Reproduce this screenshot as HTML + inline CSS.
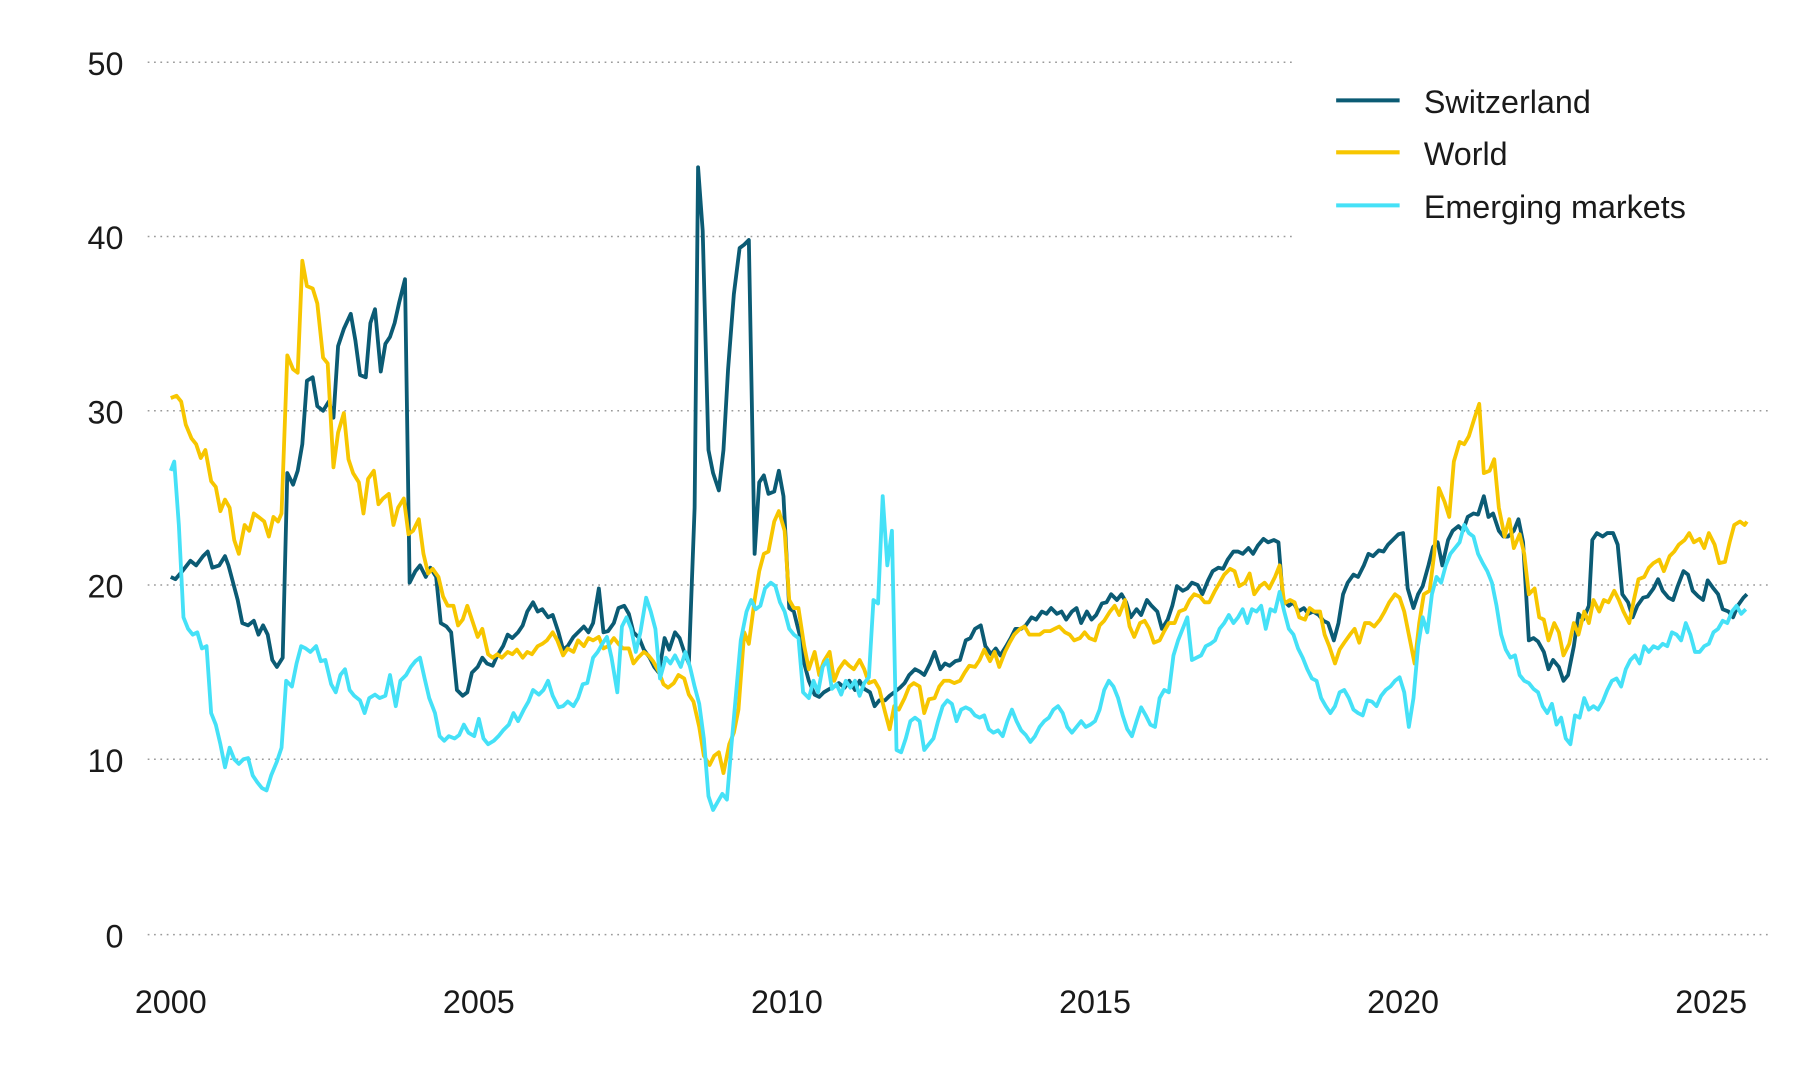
<!DOCTYPE html>
<html><head><meta charset="utf-8"><style>
html,body{margin:0;padding:0;background:#fff;}
svg{display:block;}
text{font-family:"Liberation Sans",sans-serif;fill:#1a1a1a;}
</style></head><body>
<svg width="1800" height="1080" viewBox="0 0 1560 936" xmlns="http://www.w3.org/2000/svg">
<g stroke="#9a9a9a" stroke-width="1.3" stroke-dasharray="1.5 4">
<line x1="128" y1="54" x2="1122" y2="54"/>
<line x1="128" y1="205" x2="1122" y2="205"/>
<line x1="128" y1="356" x2="1535" y2="356"/>
<line x1="128" y1="507" x2="1535" y2="507"/>
<line x1="128" y1="658" x2="1535" y2="658"/>
<line x1="128" y1="810" x2="1535" y2="810"/>
</g>
<g font-size="28" text-anchor="end">
<text x="107" y="65">50</text>
<text x="107" y="216">40</text>
<text x="107" y="367">30</text>
<text x="107" y="518">20</text>
<text x="107" y="669">10</text>
<text x="107" y="821">0</text>
</g>
<g font-size="28" text-anchor="middle">
<text x="148" y="878">2000</text>
<text x="415" y="878">2005</text>
<text x="682" y="878">2010</text>
<text x="949" y="878">2015</text>
<text x="1216" y="878">2020</text>
<text x="1483" y="878">2025</text>
</g>
<g fill="none" stroke-width="3.3" stroke-linejoin="round">
<polyline stroke="#0b5b74" points="148,500 152,502 158,495 165,486 170,490 176,482 180,478 184,492 190,490 195,482 198,490 202,505 206,520 210,540 215,542 220,538 224,550 228,542 232,550 236,572 240,578 245,570 249,410 254,420 258,408 262,385 266,330 271,327 275,352 280,356 285,348 289,362 293,300 298,285 304,272 308,295 312,325 317,327 321,280 325,268 330,322 334,298 338,292 342,280 346,262 351,242 355,505 360,495 364,490 369,500 373,492 378,500 382,540 387,543 391,548 396,598 401,603 405,600 409,583 414,578 418,570 422,575 427,577 431,568 436,560 440,550 444,553 449,548 453,542 457,530 462,522 466,530 470,528 475,535 479,533 484,548 488,563 492,560 497,552 501,548 506,543 510,548 514,540 519,510 523,548 527,547 532,540 536,527 541,525 545,532 549,548 554,553 558,563 563,570 567,578 571,583 576,553 580,563 585,548 589,553 593,565 597,575 602,440 605,145 609,200 614,390 618,410 623,425 627,390 631,320 636,255 641,215 645,212 649,208 654,480 658,418 662,412 666,428 671,426 675,408 679,430 684,527 688,530 693,550 697,575 701,590 706,602 710,604 714,600 719,597 723,595 727,592 732,596 736,590 741,598 745,590 749,597 754,600 758,612 762,607 767,607 771,603 775,600 780,596 784,592 788,585 793,580 797,582 801,585 806,575 810,565 815,580 819,575 823,577 828,573 832,572 837,555 841,553 845,545 850,542 854,560 859,567 863,562 867,568 872,560 876,553 880,545 885,545 889,542 894,535 898,537 903,530 907,532 911,527 916,532 920,530 924,537 929,530 933,527 937,540 942,530 946,537 950,533 955,523 959,522 963,515 968,520 972,515 976,522 980,535 985,528 989,533 994,520 998,525 1003,530 1007,545 1012,537 1016,525 1020,508 1025,512 1029,510 1033,505 1038,507 1042,515 1047,503 1051,495 1056,492 1060,493 1064,485 1069,478 1073,478 1077,480 1082,475 1086,480 1090,473 1095,467 1099,470 1104,468 1108,470 1112,520 1117,525 1121,522 1125,530 1130,527 1134,532 1138,530 1143,533 1147,538 1151,540 1156,555 1160,540 1164,515 1168,505 1173,498 1177,500 1182,490 1186,480 1190,482 1195,477 1199,478 1203,472 1208,467 1212,463 1216,462 1220,510 1225,527 1229,515 1233,508 1238,490 1242,474 1246,470 1250,490 1255,468 1259,460 1264,456 1268,460 1272,448 1277,445 1281,446 1286,430 1290,448 1294,445 1299,460 1303,465 1307,465 1312,460 1316,450 1320,470 1325,555 1329,553 1333,556 1338,565 1342,580 1346,572 1351,578 1355,590 1359,585 1364,560 1368,532 1372,537 1377,525 1380,468 1384,462 1389,465 1393,462 1398,462 1402,472 1406,515 1411,522 1415,535 1419,525 1424,518 1428,517 1433,510 1437,502 1441,512 1446,518 1450,520 1454,508 1459,495 1463,498 1467,512 1472,517 1476,520 1480,503 1485,510 1489,515 1493,528 1498,530 1502,535 1506,525 1511,518 1514,515"/>
<polyline stroke="#f7c600" points="148,345 153,343 157,348 161,368 166,380 170,385 174,397 178,390 183,417 187,422 191,443 195,433 199,440 203,468 207,480 212,455 216,460 220,445 224,448 229,452 233,465 237,448 241,452 244,445 249,308 254,320 258,323 262,226 266,248 271,250 275,263 280,310 284,315 289,405 293,375 298,358 302,398 306,410 311,418 315,445 319,415 324,408 328,437 332,432 337,428 341,455 345,440 350,432 354,463 358,460 363,450 367,480 371,497 375,493 380,500 384,517 388,525 393,525 397,542 401,537 405,525 410,540 414,552 418,545 423,567 427,570 431,567 435,570 440,565 444,567 448,563 453,570 457,565 461,567 466,560 470,558 474,555 479,548 483,555 488,568 492,562 497,565 501,555 506,560 510,553 514,555 519,552 523,562 527,560 532,553 536,558 540,562 545,562 549,575 553,570 558,565 562,568 566,573 571,582 575,593 579,596 584,592 588,585 593,588 597,602 601,608 606,630 610,655 615,663 619,655 623,652 627,670 632,645 636,635 640,615 645,548 649,558 654,520 658,495 662,480 666,478 671,452 675,443 680,460 684,520 688,527 692,527 697,560 701,580 706,565 710,585 714,573 719,565 723,590 727,580 732,573 736,577 740,580 745,572 749,580 753,592 758,590 762,597 767,617 771,632 775,612 779,615 784,605 788,595 792,592 797,595 801,618 805,606 810,605 814,595 818,590 823,590 827,592 832,590 836,583 840,577 845,578 849,572 853,563 858,573 862,565 866,578 871,565 875,557 879,550 884,545 888,543 892,550 897,550 901,550 905,547 910,547 914,545 918,543 923,548 927,550 931,555 936,553 940,548 944,553 949,555 953,542 957,538 962,530 966,525 970,533 975,520 979,543 983,552 988,540 992,538 996,545 1000,557 1005,555 1009,547 1013,540 1018,540 1022,530 1027,528 1031,520 1035,515 1040,517 1044,522 1048,522 1053,512 1057,505 1061,498 1066,493 1070,495 1074,508 1079,505 1083,497 1087,515 1092,508 1096,505 1100,510 1105,500 1109,490 1113,523 1118,520 1122,522 1126,535 1131,537 1135,527 1139,530 1144,530 1148,550 1152,560 1157,575 1161,563 1165,557 1170,550 1174,545 1178,557 1183,540 1187,540 1191,543 1196,537 1200,530 1204,522 1209,515 1213,518 1217,530 1222,555 1226,575 1230,540 1234,515 1239,512 1243,480 1247,423 1252,435 1256,448 1260,400 1265,383 1269,385 1273,378 1278,362 1282,350 1286,410 1291,408 1295,398 1299,440 1304,465 1308,450 1312,475 1317,463 1321,480 1325,515 1330,510 1334,535 1338,537 1342,555 1347,540 1351,548 1355,568 1360,558 1364,540 1368,550 1373,530 1377,540 1381,520 1386,530 1390,520 1394,522 1399,512 1403,520 1407,530 1412,540 1416,520 1420,502 1425,500 1429,492 1433,488 1438,485 1442,495 1447,482 1451,478 1455,472 1460,468 1464,462 1468,470 1473,467 1477,475 1481,462 1486,472 1490,488 1495,487 1499,470 1503,455 1508,452 1512,455 1514,452"/>
<polyline stroke="#45e1f7" points="148,408 151,400 155,455 159,535 163,545 167,550 171,548 175,562 179,560 183,618 187,628 191,645 195,665 199,648 203,658 207,662 211,658 215,657 219,672 223,678 227,683 231,685 235,672 240,660 244,648 248,590 253,595 257,575 261,560 265,562 269,565 274,560 278,573 282,572 287,593 291,600 295,585 299,580 303,598 307,603 312,607 316,618 320,605 325,602 329,605 334,603 338,585 343,612 347,590 352,585 356,578 360,573 364,570 368,588 372,605 377,618 381,638 385,642 389,638 394,640 398,637 402,628 406,635 411,638 415,623 419,640 423,645 428,642 432,638 436,633 441,628 445,618 449,625 454,615 458,608 462,598 467,602 471,598 475,590 479,603 484,613 488,612 492,608 497,612 501,605 505,593 509,592 514,570 518,565 522,558 526,552 530,570 535,600 539,543 543,535 547,545 551,565 555,548 560,518 564,530 568,545 572,588 577,570 581,575 585,568 590,578 594,565 598,578 602,595 606,610 610,640 614,690 618,702 622,695 626,688 630,693 634,645 638,600 642,555 647,530 651,520 655,528 659,525 663,510 668,505 672,508 676,522 680,530 684,545 688,550 692,553 696,600 701,605 705,590 709,600 713,578 717,572 721,597 725,593 729,602 733,590 737,596 741,590 745,603 749,592 753,587 757,520 761,523 765,430 769,490 773,460 777,650 781,652 785,640 789,625 793,622 797,625 801,650 805,645 809,640 813,625 817,612 821,607 825,610 829,625 833,615 837,613 841,615 845,620 849,622 853,620 857,632 861,635 865,633 869,638 873,625 877,615 881,625 885,633 889,637 893,643 897,638 901,630 905,625 909,622 913,615 917,612 921,618 925,630 929,635 933,630 937,625 941,630 945,628 949,625 953,615 957,598 961,590 965,595 969,605 973,620 977,632 981,638 985,625 989,613 993,620 997,628 1001,630 1005,605 1009,598 1013,600 1017,568 1021,555 1025,545 1029,535 1033,572 1037,570 1041,568 1045,560 1049,558 1053,555 1057,545 1061,540 1065,533 1069,540 1073,535 1077,528 1081,540 1085,528 1089,530 1093,525 1097,545 1101,528 1105,530 1109,513 1113,530 1117,545 1121,550 1125,562 1129,570 1133,580 1137,588 1141,590 1145,605 1149,612 1153,618 1157,612 1161,600 1165,598 1169,605 1173,615 1177,618 1181,620 1185,607 1189,608 1193,612 1197,603 1201,598 1205,595 1209,590 1213,587 1217,600 1221,630 1225,605 1229,560 1233,535 1237,548 1241,515 1245,500 1249,505 1253,490 1257,480 1261,475 1265,470 1269,455 1273,462 1277,465 1281,480 1285,488 1289,495 1293,505 1297,525 1301,550 1305,563 1309,570 1313,568 1317,585 1321,590 1325,592 1329,597 1333,600 1337,612 1341,618 1345,610 1349,628 1353,622 1357,640 1361,645 1365,620 1369,622 1373,605 1377,615 1381,612 1385,615 1389,608 1393,598 1397,590 1401,588 1405,595 1409,580 1413,572 1417,568 1421,575 1425,560 1429,565 1433,560 1437,562 1441,558 1445,560 1449,548 1453,550 1457,555 1461,540 1465,550 1469,565 1473,565 1477,560 1481,558 1485,548 1489,545 1493,538 1497,540 1501,530 1505,525 1509,532 1513,528"/>
</g>
<g stroke-width="3.5">
<line x1="1158" y1="87" x2="1213" y2="87" stroke="#0b5b74"/>
<line x1="1158" y1="132" x2="1213" y2="132" stroke="#f7c600"/>
<line x1="1158" y1="178" x2="1213" y2="178" stroke="#45e1f7"/>
</g>
<g font-size="28">
<text x="1234" y="98">Switzerland</text>
<text x="1234" y="143">World</text>
<text x="1234" y="189">Emerging markets</text>
</g>
</svg>
</body></html>
